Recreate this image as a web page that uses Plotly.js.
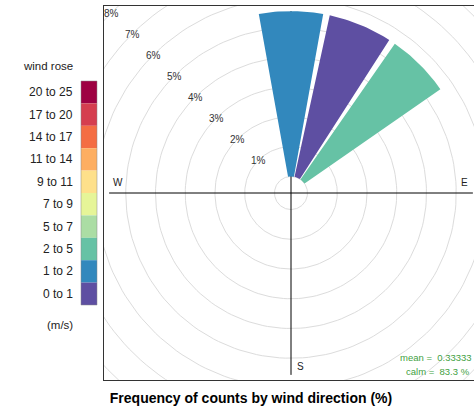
<!DOCTYPE html>
<html><head><meta charset="utf-8">
<script src="https://cdn.plot.ly/plotly-3.0.1.min.js"></script>
<style>html,body{margin:0;padding:0;background:#fff;}#chart{width:474px;height:413px;}</style>
</head><body><div id="chart"></div>
<script>
// ---- data ----
const speedBins = ["0 to 1","1 to 2","2 to 5","5 to 7","7 to 9","9 to 11","11 to 14","14 to 17","17 to 20","20 to 25"];
const binColors = ["#5E4FA2","#3288BD","#66C2A5","#ABDDA4","#E6F598","#FEE08B","#FDAE61","#F46D43","#D53E4F","#9E0142"];
const directions = [0, 22.5, 45];            // degrees, compass
const directionBins = ["1 to 2","0 to 1","2 to 5"];
const frequencies = [5.56, 5.56, 5.56];      // % of counts
const ringValues = [1,2,3,4,5,6,7,8];
const ringLabels = ["1%","2%","3%","4%","5%","6%","7%","8%"];
const compassLabels = ["E","S","W"];
const compassAngles = [90,180,270];
const meanText = "mean =  0.33333";
const calmText = "calm =  83.3 %";
const legendTitle = "wind rose";
const legendUnits = "(m/s)";
const chartTitle = "Frequency of counts by wind direction (%)";

// ---- geometry helpers ----
const maxFreq = Math.max(...frequencies);
const offset = 0.1 * maxFreq;          // hole in the middle
const R = offset + maxFreq;            // axis line extent
const sectorAngle = 22.5;
const halfWidth = sectorAngle/2 - 1.05;
const rad = d => d*Math.PI/180;
const px = (r,a) => r*Math.sin(rad(a));
const py = (r,a) => r*Math.cos(rad(a));

const traces = [];
// rings
function circle(r){ const xs=[],ys=[]; for(let a=0;a<=360;a+=2){xs.push(px(r,a));ys.push(py(r,a));} return [xs,ys]; }
let rx=[], ry=[];
[0, ...ringValues].forEach(v=>{ const [xs,ys]=circle(offset+v); rx=rx.concat(xs,[null]); ry=ry.concat(ys,[null]); });
traces.push({type:'scatter',mode:'lines',x:rx,y:ry,line:{color:'#dcdcdc',width:1},hoverinfo:'skip'});
// axis lines
traces.push({type:'scatter',mode:'lines',x:[-R,R,null,0,0],y:[0,0,null,-R,R],line:{color:'#000',width:1},hoverinfo:'skip'});
// bars
directions.forEach((d,i)=>{
  const r0 = offset, r1 = offset + frequencies[i];
  const xs=[],ys=[];
  for(let k=0;k<=20;k++){const a=d-halfWidth+2*halfWidth*k/20; xs.push(px(r1,a)); ys.push(py(r1,a));}
  for(let k=20;k>=0;k--){const a=d-halfWidth+2*halfWidth*k/20; xs.push(px(r0,a)); ys.push(py(r0,a));}
  const col = binColors[speedBins.indexOf(directionBins[i])];
  traces.push({type:'scatter',mode:'lines',x:xs,y:ys,fill:'toself',fillcolor:col,line:{width:0,color:col},hoverinfo:'skip'});
});

// ---- annotations ----
const W=474,H=413, L=104, T=6, PW=370, PH=374;
const toPX = p => (p-L)/PW, toPY = p => (T+PH-p)/PH;
const ann = [];
ringValues.forEach((v,i)=>{
  const r=offset+v;
  ann.push({x:px(r,315),y:py(r,315),xref:'x',yref:'y',text:ringLabels[i],showarrow:false,font:{size:10,color:'#333'},xanchor:'center',yanchor:'middle'});
});
compassLabels.forEach((lab,i)=>{
  const a=compassAngles[i], r=0.953*R;
  let x=px(r,a), y=py(r,a);
  if(a===180){x+=0.32;} else {y+=0.36;}
  ann.push({x:x,y:y,xref:'x',yref:'y',text:lab,showarrow:false,font:{size:10,color:'#222'},xanchor:'center',yanchor:'middle'});
});
ann.push({x:toPX(474),y:toPY(357),xref:'paper',yref:'paper',text:meanText,showarrow:false,xanchor:'right',yanchor:'middle',font:{size:9.5,color:'#3f9f3f'}});
ann.push({x:toPX(472),y:toPY(371),xref:'paper',yref:'paper',text:calmText,showarrow:false,xanchor:'right',yanchor:'middle',font:{size:9.5,color:'#3f9f3f'}});
// legend
const shapes=[];
const legTop=81, legBot=305, legL=81, legR=97, n=speedBins.length, h=(legBot-legTop)/n;
for(let j=0;j<n;j++){
  const bi = n-1-j; // top = highest bin
  const y0=legTop+j*h, y1=y0+h;
  shapes.push({type:'rect',xref:'paper',yref:'paper',x0:toPX(legL),x1:toPX(legR),y0:toPY(y1),y1:toPY(y0),fillcolor:binColors[bi],line:{width:0},layer:'above'});
  ann.push({x:toPX(75),y:toPY((y0+y1)/2),xref:'paper',yref:'paper',text:speedBins[bi],showarrow:false,xanchor:'right',yanchor:'middle',font:{size:12,color:'#222'}});
}
shapes.push({type:'rect',xref:'paper',yref:'paper',x0:toPX(legL),x1:toPX(legR),y0:toPY(legBot),y1:toPY(legTop),fillcolor:'rgba(0,0,0,0)',line:{width:0.5,color:'#888'},layer:'above'});
ann.push({x:toPX(75),y:toPY(66),xref:'paper',yref:'paper',text:legendTitle,showarrow:false,xanchor:'right',yanchor:'middle',font:{size:11.5,color:'#222'}});
ann.push({x:toPX(75),y:toPY(325),xref:'paper',yref:'paper',text:legendUnits,showarrow:false,xanchor:'right',yanchor:'middle',font:{size:11.5,color:'#222'}});

const ppu = 29.74;
const layout = {
  width:W,height:H,margin:{l:L,r:0,t:T,b:H-T-PH,pad:0},
  paper_bgcolor:'#fff',plot_bgcolor:'#fff',showlegend:false,
  font:{family:'Liberation Sans, Arial, sans-serif',color:'#222'},
  title:{text:'<b>'+chartTitle+'</b>',x:251/W,xref:'container',xanchor:'center',y:1-398/H,yref:'container',yanchor:'middle',font:{size:14,color:'#000',family:'Liberation Sans, Arial, sans-serif'}},
  xaxis:{range:[-(291-L)/ppu,(W-291)/ppu],showgrid:false,zeroline:false,showticklabels:false,ticks:'',showline:true,mirror:true,linecolor:'#333',linewidth:1,fixedrange:true},
  yaxis:{range:[-(T+PH-193)/ppu,(193-T)/ppu],showgrid:false,zeroline:false,showticklabels:false,ticks:'',showline:true,mirror:false,linecolor:'#333',linewidth:1,fixedrange:true},
  annotations:ann,shapes:shapes
};
Plotly.newPlot('chart',traces,layout,{displayModeBar:false,staticPlot:true});
</script></body></html>
